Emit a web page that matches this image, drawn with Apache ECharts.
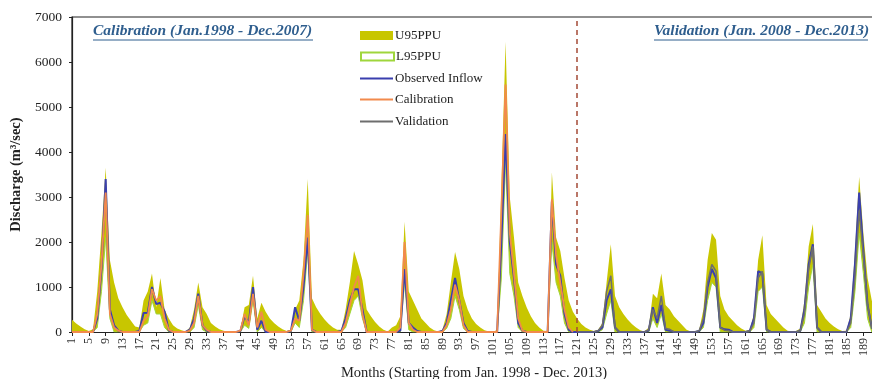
<!DOCTYPE html>
<html>
<head>
<meta charset="utf-8">
<script src="https://cdn.jsdelivr.net/npm/echarts@6/dist/echarts.min.js"></script>
<style>
html,body{margin:0;padding:0;background:#fff;}
#c{width:872px;height:379px;}
</style>
</head>
<body>
<div id="c"></div>
<script>
// Months 1..192 (Jan 1998 - Dec 2013)
const months = Array.from({length: 192}, (_, i) => String(i + 1));

const u95 = [
  270,190,120,60,20,60,900,2200,3650,1600,1100,750,
  550,380,250,120,100,700,900,1300,550,1200,500,300,
  150,80,40,10,100,500,1100,550,400,200,120,60,
  30,10,0,0,50,550,600,1250,300,650,450,300,
  200,120,60,20,50,500,700,1600,3400,750,550,400,
  280,180,100,50,50,500,1100,1800,1500,1150,500,350,
  220,120,50,10,100,150,350,2450,900,700,500,300,
  200,100,40,10,50,400,1100,1780,1400,800,500,300,
  180,100,40,10,0,50,3200,6450,3000,2100,1100,800,
  550,350,200,100,30,20,3550,2100,1800,1200,700,450,
  300,180,100,50,20,50,200,1100,1950,800,550,400,
  280,180,100,40,10,100,850,750,1300,600,500,350,
  250,150,50,10,0,50,500,1600,2200,2050,800,500,
  350,250,150,80,30,50,400,1600,2150,600,400,300,
  200,100,30,10,20,80,700,1900,2400,600,450,300,
  200,120,60,20,30,400,1800,3450,2200,1200,700,400
];

const l95 = [
  0,0,0,0,0,0,100,900,2100,300,0,0,
  0,0,0,0,0,150,200,700,400,400,100,0,
  0,0,0,0,0,100,600,50,0,0,0,0,
  0,0,0,0,0,150,80,700,0,100,0,0,
  0,0,0,0,0,200,100,700,1800,0,0,0,
  0,0,0,0,0,100,400,700,800,300,0,0,
  0,0,0,0,0,0,0,1100,50,0,0,0,
  0,0,0,0,0,80,300,800,500,80,0,0,
  0,0,0,0,0,0,1200,3800,1300,800,100,0,
  0,0,0,0,0,0,2000,1100,800,200,0,0,
  0,0,0,0,0,0,50,400,700,0,0,0,
  0,0,0,0,0,0,300,100,400,0,0,0,
  0,0,0,0,0,0,100,700,1100,1000,0,0,
  0,0,0,0,0,0,100,900,1000,0,0,0,
  0,0,0,0,0,0,200,1000,1500,0,0,0,
  0,0,0,0,0,100,900,2200,1300,300,0,0
];

const observed = [
  0,0,0,0,0,0,300,1400,3400,500,150,30,
  0,0,0,0,20,420,430,1000,620,650,450,30,
  0,0,0,0,50,300,850,150,30,0,0,0,
  0,0,0,0,20,350,200,1000,50,250,0,0,
  0,0,0,0,20,550,250,1000,2100,50,0,0,
  0,0,0,0,20,300,700,950,950,500,0,0,
  0,0,0,0,0,0,30,1400,200,100,20,0,
  0,0,0,0,20,200,700,1200,700,200,20,0,
  0,0,0,0,0,0,2000,4400,2000,1200,200,30,
  0,0,0,0,0,0,2900,1500,1250,400,50,0,
  0,0,0,0,0,20,100,700,950,100,0,0,
  0,0,0,0,0,30,550,200,600,50,30,0,
  0,0,0,0,0,20,200,1000,1400,1200,100,60,
  50,0,0,0,0,20,300,1350,1300,50,0,0,
  0,0,0,0,0,20,500,1500,1950,100,0,0,
  0,0,0,0,0,300,1500,3100,1800,600,100,0
];

// Calibration: months 1..120
const calibration = [
  0,0,0,0,0,0,400,1500,3100,400,100,30,
  0,0,0,0,0,250,350,950,700,800,300,50,
  0,0,0,0,30,200,800,150,50,0,0,0,
  0,0,0,0,30,400,150,850,100,450,50,0,
  0,0,0,0,30,300,250,1300,2600,50,0,0,
  0,0,0,0,0,200,600,1000,1250,400,0,0,
  0,0,0,0,0,0,100,2000,200,50,0,0,
  0,0,0,0,0,150,500,1050,700,150,0,0,
  0,0,0,0,0,0,2700,5500,2200,1300,300,30,
  0,0,0,0,0,0,2950,1700,1100,500,100,0
];

// Validation: months 121..192
const validation = [
  0,0,0,0,0,30,150,900,1250,100,0,0,
  0,0,0,0,0,50,500,300,800,80,60,0,
  0,0,0,0,0,30,300,1100,1500,1350,100,40,
  30,0,0,0,0,20,200,1200,1350,50,0,0,
  0,0,0,0,0,20,400,1400,1900,100,0,0,
  0,0,0,0,0,200,1200,2700,1700,600,100,0
];

const splitMonth = '121';
const yTicks = {min: 0, max: 7000, interval: 1000};

const calSeries = calibration.concat(new Array(192 - calibration.length).fill(null));
const valSeries = new Array(192 - validation.length).fill(null).concat(validation);

const SERIF = '"Liberation Serif", "DejaVu Serif", serif';
const YELLOW = '#c8c600';
const GREEN = '#9fd63c';
const BLUE = '#3a3fae';
const ORANGE = '#f28a4c';
const GRAY = '#6e6e6e';
const NOTE = '#2f5e8e';

const chart = echarts.init(document.getElementById('c'));

function legendItem(name, top, h, icon, style) {
  return {
    left: 360, top: top, orient: 'vertical', padding: 0,
    itemWidth: 33, itemHeight: h, itemGap: 0,
    selectedMode: false,
    textStyle: {fontFamily: SERIF, fontSize: 13, color: '#222', padding: [0, 0, 0, -3]},
    data: [{name: name, icon: icon, itemStyle: style}]
  };
}

chart.setOption({
  animation: false,
  backgroundColor: '#fff',
  grid: {left: 72, top: 17, width: 804, height: 315, containLabel: false, outerBoundsMode: 'none',
    show: true, borderColor: '#222', borderWidth: 1.2},
  legend: [
    legendItem('U95PPU', 29, 9, 'rect', {color: YELLOW, borderWidth: 0}),
    legendItem('L95PPU', 50, 8, 'rect', {color: '#fff', borderColor: GREEN, borderWidth: 2}),
    legendItem('Observed Inflow', 72, 2, 'rect', {color: BLUE, borderWidth: 0}),
    legendItem('Calibration', 93, 2, 'rect', {color: ORANGE, borderWidth: 0}),
    legendItem('Validation', 115, 2, 'rect', {color: GRAY, borderWidth: 0})
  ],
  xAxis: {
    type: 'category', data: months, boundaryGap: false,
    name: 'Months (Starting from Jan. 1998 - Dec. 2013)',
    nameLocation: 'middle', nameGap: 34,
    nameTextStyle: {fontFamily: SERIF, fontSize: 14.5, color: '#222'},
    axisLine: {lineStyle: {color: '#222', width: 1.2}},
    axisTick: {interval: 3, length: 4, lineStyle: {color: '#222'}},
    axisLabel: {interval: 3, rotate: 90, fontFamily: SERIF, fontSize: 12, color: '#333', margin: 6},
    splitLine: {show: false}
  },
  yAxis: {
    type: 'value', min: yTicks.min, max: yTicks.max, interval: yTicks.interval,
    name: 'Discharge (m³/sec)', nameLocation: 'middle', nameGap: 47,
    nameTextStyle: {fontFamily: SERIF, fontSize: 14.5, fontWeight: 'bold', color: '#222'},
    axisLine: {show: true, lineStyle: {color: '#222', width: 1.2}},
    axisTick: {show: true, length: 3, lineStyle: {color: '#222'}},
    axisLabel: {fontFamily: SERIF, fontSize: 13.5, color: '#222', margin: 10, formatter: v => String(v)},
    splitLine: {show: false}
  },
  graphic: [
    {type: 'text', left: 93, top: 23, style: {text: 'Calibration (Jan.1998 - Dec.2007)', font: 'italic bold 15.5px "Liberation Serif", serif', fill: NOTE}},
    {type: 'line', shape: {x1: 93, y1: 40, x2: 313, y2: 40}, style: {stroke: NOTE, lineWidth: 1}},
    {type: 'text', left: 654, top: 23, style: {text: 'Validation (Jan. 2008 - Dec.2013)', font: 'italic bold 15.5px "Liberation Serif", serif', fill: NOTE}},
    {type: 'line', shape: {x1: 654, y1: 40, x2: 868, y2: 40}, style: {stroke: NOTE, lineWidth: 1}}
  ],
  series: [
    {name: 'U95PPU', type: 'line', data: u95, symbol: 'none', lineStyle: {width: 0, color: YELLOW}, itemStyle: {color: YELLOW}, areaStyle: {color: YELLOW, opacity: 1}, z: 1},
    {name: 'L95PPU', type: 'line', data: l95, symbol: 'none', lineStyle: {width: 1, color: GREEN}, itemStyle: {color: GREEN}, areaStyle: {color: '#fff', opacity: 1}, z: 2},
    {name: 'Observed Inflow', type: 'line', data: observed, symbol: 'none', lineStyle: {width: 2, color: BLUE}, itemStyle: {color: BLUE}, z: 3,
      markLine: {silent: true, symbol: 'none', label: {show: false}, lineStyle: {type: [5, 4], color: '#a44a36', width: 1.5}, data: [{xAxis: splitMonth}]}},
    {name: 'Calibration', type: 'line', data: calSeries, symbol: 'none', lineStyle: {width: 1.8, color: ORANGE}, itemStyle: {color: ORANGE}, z: 4},
    {name: 'Validation', type: 'line', data: valSeries, symbol: 'none', lineStyle: {width: 1.5, color: GRAY}, itemStyle: {color: GRAY}, z: 4}
  ]
});
</script>
</body>
</html>
